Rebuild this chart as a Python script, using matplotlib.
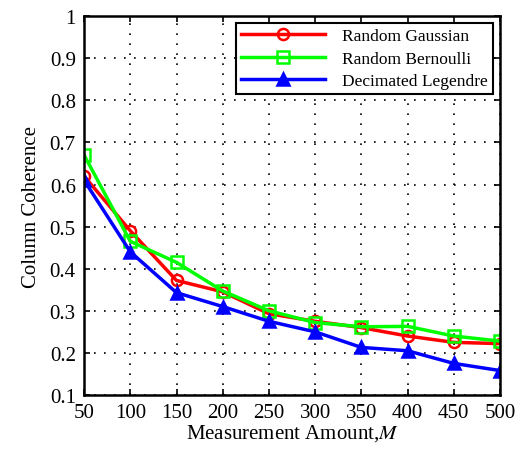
import matplotlib
matplotlib.use('Agg')
import matplotlib.pyplot as plt
import numpy as np

plt.rcParams['font.family'] = ['Liberation Serif', 'DejaVu Serif']
plt.rcParams['mathtext.fontset'] = 'stix'

# measurement amounts
M = [50, 100, 150, 200, 250, 300, 350, 400, 450, 500]
gaussian = [0.62, 0.49, 0.372, 0.345, 0.293, 0.275, 0.26, 0.24, 0.225, 0.222]
bernoulli = [0.67, 0.465, 0.415, 0.347, 0.30, 0.272, 0.262, 0.263, 0.24, 0.228]
legendre = [0.61, 0.44, 0.343, 0.31, 0.275, 0.25, 0.213, 0.205, 0.175, 0.158]

fig = plt.figure(figsize=(5.29, 4.52), dpi=100)
ax = fig.add_axes([0.159, 0.124, 0.786, 0.838])

ax.plot(M, gaussian, color='#ff0000', lw=2.5, marker='o', ms=8, mfc='none', mew=1.8, label='Random Gaussian')
ax.plot(M, bernoulli, color='#00ff00', lw=2.5, marker='s', ms=8, mfc='none', mew=1.8, label='Random Bernoulli')
ax.plot(M, legendre, color='#0000ff', lw=2.5, marker='^', ms=8, mfc='#0000ff', mew=1.8, label='Decimated Legendre')

ax.set_xlim(50, 500)
ax.set_ylim(0.1, 1.0)
ax.set_xticks(np.arange(50, 501, 50))
ax.set_yticks(np.round(np.arange(0.1, 1.01, 0.1), 1))
ax.set_yticklabels(['0.1', '0.2', '0.3', '0.4', '0.5', '0.6', '0.7', '0.8', '0.9', '1'])
ax.grid(True, color='black', linestyle=(0, (1, 5)), linewidth=1.2)
ax.tick_params(direction='in', labelsize=15, length=4, width=1.2, top=True, right=True, pad=6)
for s in ax.spines.values():
    s.set_linewidth(1.8)

ax.set_xlabel('Measurement Amount,$\\it{M}$', fontsize=15, labelpad=0)
ax.set_ylabel('Column Coherence', fontsize=15, labelpad=6)

leg = ax.legend(loc='upper right', fontsize=12.5, fancybox=False, framealpha=1,
                edgecolor='black', handlelength=4.8, handletextpad=1.0,
                borderaxespad=0.4, labelspacing=0.35, borderpad=0.3)
leg.get_frame().set_linewidth(1.5)

fig.savefig('out.png', dpi=100)
